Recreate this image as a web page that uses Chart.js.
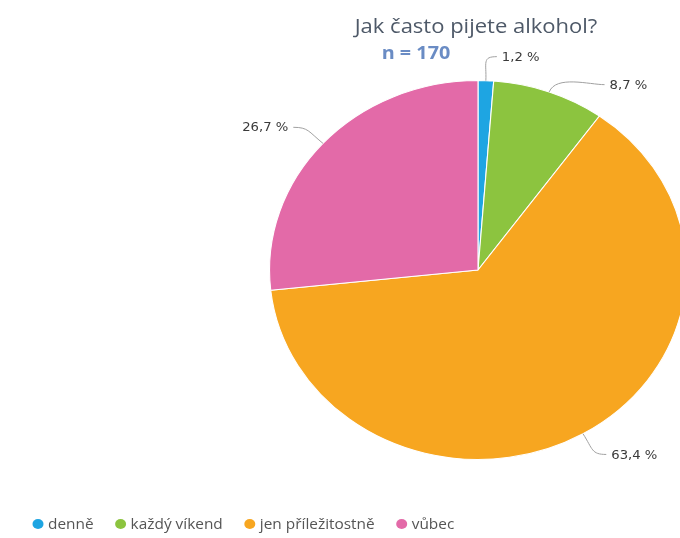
<!DOCTYPE html>
<html>
<head>
<meta charset="utf-8">
<script src="https://cdn.jsdelivr.net/npm/chart.js@4"></script>
<style>
    html, body { margin: 0; padding: 0; background: #fff; }
    canvas { display: block; }
</style>
</head>
<body>
<canvas id="pie-chart" width="680" height="538"></canvas>
<script>
// data
const categories = ['denně', 'každý víkend', 'jen příležitostně', 'vůbec'];
const shares = [1.2, 8.7, 63.4, 26.7];
const sliceColors = ['#1ea5e2', '#8cc43f', '#f7a620', '#e36aa8'];
const chartTitle = 'Jak často pijete alkohol?';
const sampleSize = 'n = 170';

const FONT = '"Open Sans", "Noto Sans", sans-serif';
const STRETCH_X = 1.1; // whole graphic is a bit wider than tall

// text drawn with the same horizontal stretch as the pie
function stretchedText(ctx, text, x, y) {
    ctx.save();
    ctx.translate(x, y);
    ctx.scale(STRETCH_X, 1);
    ctx.fillText(text, 0, 0);
    ctx.restore();
}

// stretch the pie horizontally around its centre
const ellipsePlugin = {
    id: 'ellipse',
    beforeDatasetsDraw(chart) {
        const arc = chart.getDatasetMeta(0).data[0];
        const ctx = chart.ctx;
        ctx.save();
        ctx.translate(arc.x, arc.y);
        ctx.scale(STRETCH_X, 1);
        ctx.translate(-arc.x, -arc.y);
    },
    afterDatasetsDraw(chart) {
        chart.ctx.restore();
    }
};

// percent labels with connector lines
const sliceLabelsPlugin = {
    id: 'sliceLabels',
    afterDatasetsDraw(chart) {
        const ctx = chart.ctx;
        const arcs = chart.getDatasetMeta(0).data;
        const dist = 24;
        const items = arcs.map((arc, i) => {
            const p = arc.getProps(['x', 'y', 'startAngle', 'endAngle', 'outerRadius'], true);
            const mid = (p.startAngle + p.endAngle) / 2;
            const r = p.outerRadius;
            return {
                i, cx: p.x, cy: p.y, r, mid,
                ex: p.x + Math.cos(mid) * r * STRETCH_X,
                ey: p.y + Math.sin(mid) * r,
                right: Math.cos(mid) >= 0,
                y: p.y + Math.sin(mid) * (r + dist)
            };
        });
        // push overlapping labels apart on each side
        [true, false].forEach(side => {
            const group = items.filter(it => it.right === side).sort((a, b) => a.y - b.y);
            for (let k = 1; k < group.length; k++) {
                if (group[k].y - group[k - 1].y < 28) group[k].y = group[k - 1].y + 28;
            }
        });
        ctx.save();
        ctx.font = '12px "DejaVu Sans", sans-serif';
        ctx.textBaseline = 'middle';
        items.forEach(it => {
            const R = it.r + dist;
            const dy = Math.min(Math.abs(it.y - it.cy), R);
            const dx = Math.sqrt(R * R - dy * dy) * STRETCH_X;
            const sgn = it.right ? 1 : -1;
            const text = shares[it.i].toFixed(1).replace('.', ',') + ' %';
            const w = ctx.measureText(text).width * STRETCH_X;
            let lx = it.right ? Math.max(it.cx + dx, it.ex) + 15 : Math.min(it.cx - dx, it.ex) - 15;
            const c1x = it.cx + Math.cos(it.mid) * (it.r + 18) * STRETCH_X;
            const c1y = it.cy + Math.sin(it.mid) * (it.r + 18);
            ctx.strokeStyle = '#a0a0a0';
            ctx.lineWidth = 1;
            ctx.beginPath();
            ctx.moveTo(it.ex, it.ey);
            ctx.bezierCurveTo(c1x, c1y, lx - sgn * 20, it.y, lx - sgn * 5, it.y);
            ctx.stroke();
            ctx.fillStyle = '#3a3a3a';
            ctx.textAlign = 'left';
            stretchedText(ctx, text, it.right ? lx : lx - w, it.y + 1);
        });
        ctx.restore();
    }
};

// title, sample size and legend
const decorPlugin = {
    id: 'decor',
    afterDraw(chart) {
        const ctx = chart.ctx;
        ctx.save();
        ctx.textAlign = 'center';
        ctx.textBaseline = 'alphabetic';
        ctx.font = '20px ' + FONT;
        ctx.fillStyle = '#4e5968';
        stretchedText(ctx, chartTitle, 476, 33);
        ctx.font = 'bold 18px ' + FONT;
        ctx.fillStyle = '#6a8cc4';
        stretchedText(ctx, sampleSize, 416, 59);

        // legend row
        ctx.font = '14px ' + FONT;
        ctx.textAlign = 'left';
        ctx.textBaseline = 'middle';
        let x = 33;
        const y = 524;
        categories.forEach((name, i) => {
            ctx.fillStyle = sliceColors[i];
            ctx.beginPath();
            ctx.ellipse(x + 5, y, 5.5, 5, 0, 0, Math.PI * 2);
            ctx.fill();
            ctx.fillStyle = '#555';
            stretchedText(ctx, name, x + 15, y + 1);
            x += 15 + ctx.measureText(name).width * STRETCH_X + 22;
        });
        ctx.restore();
    }
};

new Chart(document.getElementById('pie-chart'), {
    type: 'pie',
    data: {
        labels: categories,
        datasets: [{
            data: shares,
            backgroundColor: sliceColors,
            borderColor: '#fff',
            borderWidth: 1,
            hoverOffset: 0
        }]
    },
    options: {
        responsive: false,
        animation: false,
        layout: {
            padding: { left: 288, right: 12, top: 80, bottom: 78 }
        },
        plugins: {
            legend: { display: false },
            title: { display: false },
            tooltip: { enabled: false }
        }
    },
    plugins: [ellipsePlugin, sliceLabelsPlugin, decorPlugin]
});
</script>
</body>
</html>
